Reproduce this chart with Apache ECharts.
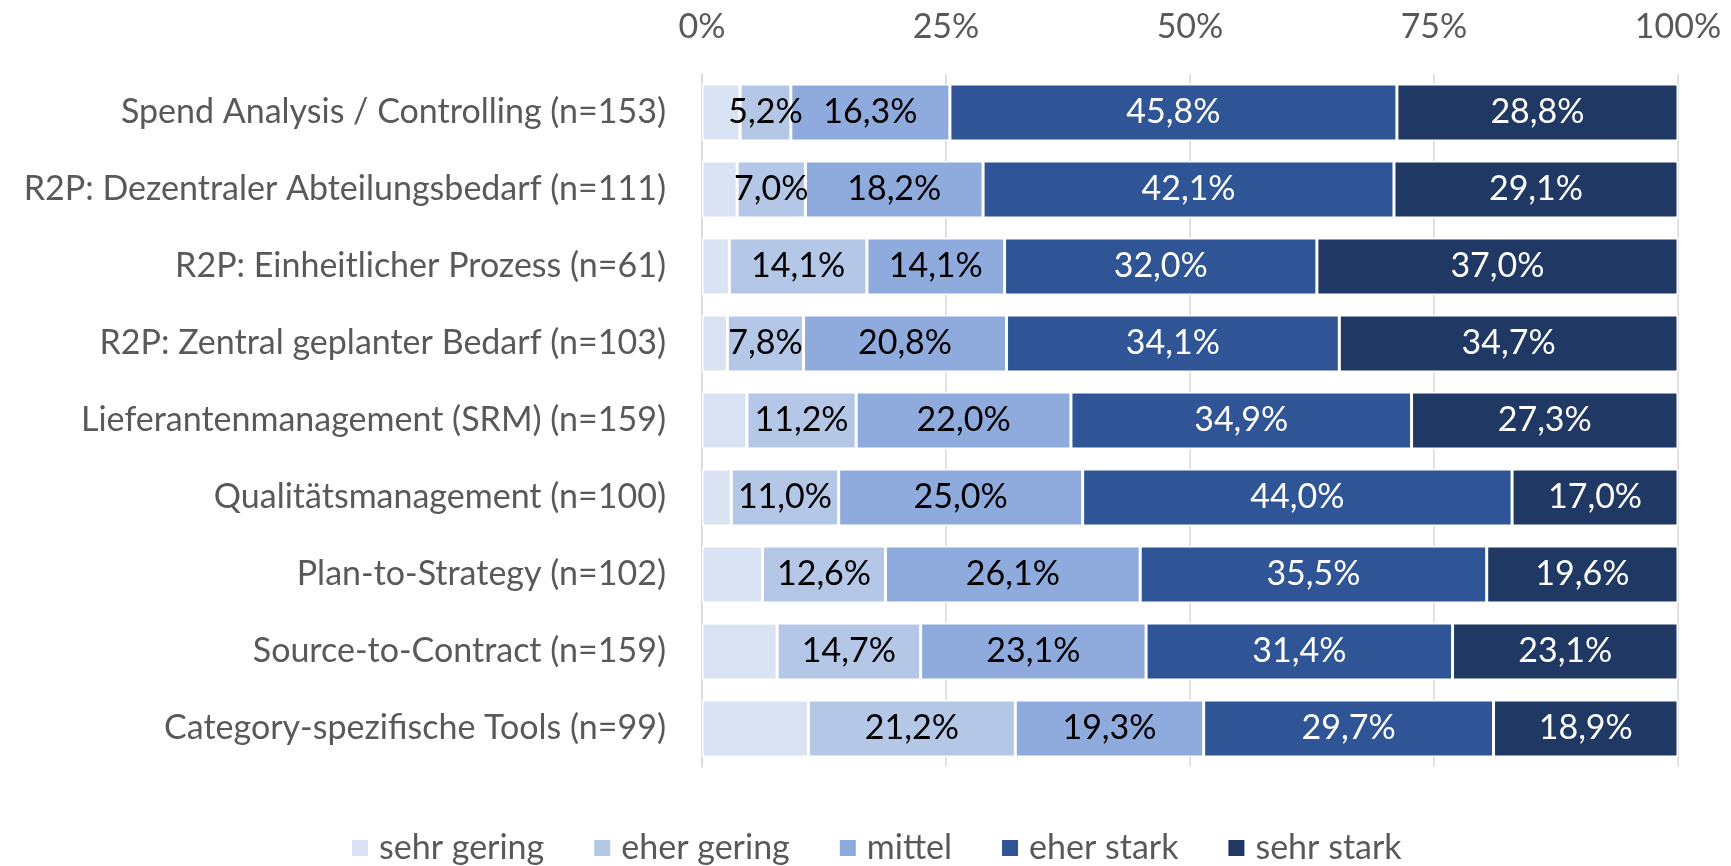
<!DOCTYPE html>
<html>
<head>
<meta charset="utf-8">
<script src="https://cdn.jsdelivr.net/npm/echarts@6/dist/echarts.min.js"></script>
<style>html,body{margin:0;padding:0;background:#fff}#chart{width:1731px;height:866px}</style>
</head>
<body>
<div id="chart"></div>
<script>
const categories = [
  'Spend Analysis / Controlling (n=153)',
  'R2P: Dezentraler Abteilungsbedarf (n=111)',
  'R2P: Einheitlicher Prozess (n=61)',
  'R2P: Zentral geplanter Bedarf (n=103)',
  'Lieferantenmanagement (SRM) (n=159)',
  'Qualitätsmanagement (n=100)',
  'Plan-to-Strategy (n=102)',
  'Source-to-Contract (n=159)',
  'Category-spezifische Tools (n=99)'
];
const seriesNames = ['sehr gering', 'eher gering', 'mittel', 'eher stark', 'sehr stark'];
const sehrGering = [3.9, 3.6, 2.8, 2.6, 4.6, 3.0, 6.2, 7.7, 10.9];
const eherGering = [5.2, 7.0, 14.1, 7.8, 11.2, 11.0, 12.6, 14.7, 21.2];
const mittel     = [16.3, 18.2, 14.1, 20.8, 22.0, 25.0, 26.1, 23.1, 19.3];
const eherStark  = [45.8, 42.1, 32.0, 34.1, 34.9, 44.0, 35.5, 31.4, 29.7];
const sehrStark  = [28.8, 29.1, 37.0, 34.7, 27.3, 17.0, 19.6, 23.1, 18.9];
const tickLabels = ['0%', '25%', '50%', '75%', '100%'];

const colors = ['#dae3f3', '#b4c7e7', '#8faadc', '#2f5597', '#203864'];
const labelColors = [null, '#000000', '#000000', '#ffffff', '#ffffff'];
const values = [sehrGering, eherGering, mittel, eherStark, sehrStark];

const fam = 'Lato';
const fs = 34;
const fmt = v => v.toFixed(1).replace('.', ',') + '%';

const chart = echarts.init(document.getElementById('chart'), null, {renderer: 'canvas'});
chart.setOption({
  animation: false,
  textStyle: {fontFamily: fam},
  grid: {left: 702, right: 53, top: 74, bottom: 99, containLabel: false},
  legend: {
    top: 826,
    left: 345,
    icon: 'rect',
    itemWidth: 18,
    itemHeight: 18,
    itemGap: 48,
    data: seriesNames,
    textStyle: {color: '#595959', fontSize: fs, fontFamily: fam, padding: [0, 0, 0, 5]}
  },
  xAxis: {
    type: 'value',
    position: 'top',
    min: 0,
    max: 100,
    interval: 25,
    axisLine: {show: false},
    axisTick: {show: false},
    axisLabel: {
      color: '#595959', fontSize: fs, fontFamily: fam, margin: 30,
      formatter: v => tickLabels[Math.round(v / 25)]
    },
    splitLine: {show: true, lineStyle: {color: '#d9d9d9', width: 1.5}}
  },
  yAxis: {
    type: 'category',
    inverse: true,
    data: categories,
    axisLine: {show: true, lineStyle: {color: '#d9d9d9', width: 1.5}},
    axisTick: {show: false},
    axisLabel: {color: '#595959', fontSize: fs, fontFamily: fam, margin: 36}
  },
  series: seriesNames.map((name, i) => ({
    name: name,
    type: 'bar',
    stack: 'total',
    barWidth: 57,
    data: values[i],
    itemStyle: {color: colors[i], borderColor: '#ffffff', borderWidth: 1.5},
    label: {
      show: i > 0,
      position: 'inside',
      color: labelColors[i] || '#000',
      fontSize: fs,
      fontFamily: fam,
      formatter: p => fmt(p.value)
    }
  }))
});
</script>
</body>
</html>
